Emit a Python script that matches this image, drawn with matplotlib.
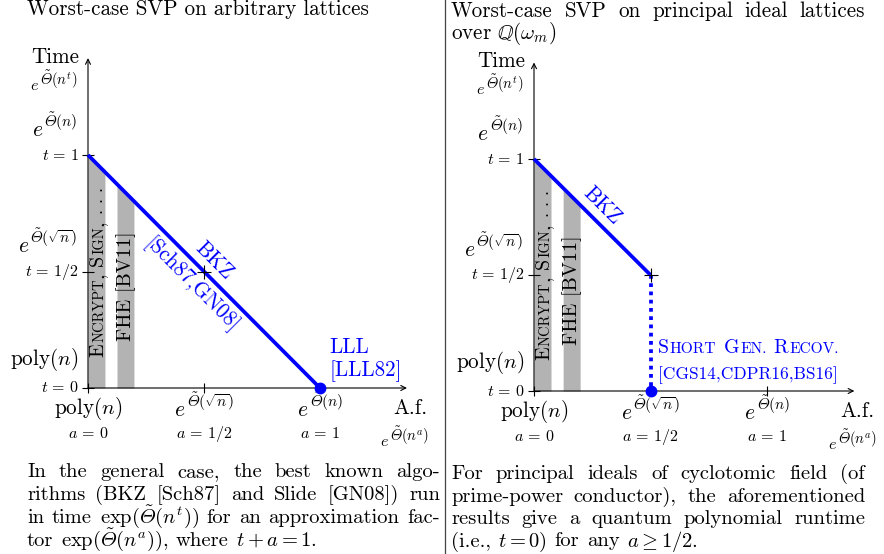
import numpy as np
import matplotlib.pyplot as plt
import matplotlib.transforms as mtransforms
from matplotlib.lines import Line2D

plt.rcParams['font.family'] = 'cmr10'
plt.rcParams['mathtext.fontset'] = 'cm'
plt.rcParams['axes.unicode_minus'] = False

W, H = 884, 554
BLUE = '#0000ff'
GREY = '#b3b3b3'
BIG = 15.2
CAP = 14.8
SMALL = 11.5
# slot 0xA3 of the bundled cmmi10 holds the italic capital Theta
TH = r'\tilde{£}'

# ---- data (a = approximation exponent, t = time exponent)
bar_spans = [(0.0, 0.073), (0.125, 0.198)]
t_ticks = [0, 0.5, 1]
t_tick_labels = [r'$t\,=\,0$', r'$t\,=\,1/2$', r'$t\,=\,1$']
time_levels = [0.584, 1.08]
time_sups = [r'(\sqrt{n})', r'(n)']
a_ticks = [0, 0.5, 1]
af_sups = [None, r'(\sqrt{n})', r'(n)']
a_tick_labels = [r'$a\,=\,0$', r'$a\,=\,1/2$', r'$a\,=\,1$']

left_bkz_a = [0, 1]
left_bkz_t = [1, 0]
right_bkz_a = [0, 0.5]
right_bkz_t = [1, 0.5]
right_sgr_a = [0.5, 0.5]
right_sgr_t = [0.5, 0]

left_caption = [
    "In the general case, the best known algo-",
    "rithms (BKZ [Sch87] and Slide [GN08]) run",
    r"in time $\exp(" + TH + r"(n^t))$ for an approximation fac-",
    r"tor $\exp(" + TH + r"(n^a))$, where $t+a=1$.",
]
right_caption = [
    "For principal ideals of cyclotomic field (of",
    "prime-power conductor), the aforementioned",
    "results give a quantum polynomial runtime",
    r"(i.e., $t=0$) for any $a\geq1/2$.",
]

fig = plt.figure(figsize=(W / 100, H / 100), dpi=100)
R = fig.canvas.get_renderer()


def ptext(x, y, s, **kw):
    return fig.text(x / W, 1 - y / H, s, **kw)


def text_width(s, size):
    tmp = fig.text(0, 0, s, fontsize=size)
    w = tmp.get_window_extent(R).width
    tmp.remove()
    return w


def justify(line, x0, x1, y, size, stretch=True):
    words = line.split(' ')
    ws = [text_width(w, size) for w in words]
    gap = size * 0.36 * 100 / 72
    if stretch:
        gap = max((x1 - x0 - sum(ws)) / (len(words) - 1), 3.0)
    x = x0
    for w, wd in zip(words, ws):
        ptext(x, y, w, fontsize=size, va='baseline', ha='left')
        x += wd + gap


def shifted(ax, dx, dy):
    return mtransforms.offset_copy(ax.transData, fig=fig, x=dx, y=dy, units='dots')


def smallcaps(ax, x, y, pieces, rotation=0, color='k'):
    off = 0.0
    for s, size in pieces:
        if s == ' ':
            off += size * 0.33 * 100 / 72
            continue
        w = text_width(s, size)
        dx, dy = (off, 0) if rotation == 0 else (0, off)
        ax.text(x, y, s, fontsize=size, color=color, rotation=rotation,
                rotation_mode='anchor', ha='left', va='baseline',
                transform=shifted(ax, dx, dy), clip_on=False)
        off += w + size * 0.06


def elabel(ax, x, y, sup, esize, ssize, raise_px, ha='right'):
    # e^{Theta~(...)} with a larger superscript than mathtext gives
    s = '$' + TH + sup + '$'
    we = text_width('$e$', esize)
    ws = text_width(s, ssize)
    total = we + ws + 1
    x0 = -total if ha == 'right' else -total / 2
    ax.text(x, y, '$e$', fontsize=esize, ha='left', va='baseline',
            transform=shifted(ax, x0, 0), clip_on=False)
    ax.text(x, y, s, fontsize=ssize, ha='left', va='baseline',
            transform=shifted(ax, x0 + we + 1, raise_px), clip_on=False)


def unit_axes(x0, x1, ybot, ytop):
    ax = fig.add_axes([x0 / W, 1 - ybot / H, (x1 - x0) / W, (ybot - ytop) / H])
    ax.set_xlim(0, 1)
    ax.set_ylim(0, 1)
    ax.axis('off')
    return ax


def frame(ax):
    for a0, a1 in bar_spans:
        aa = np.linspace(a0, a1, 20)
        ax.fill_between(aa, 0, 1 - aa, color=GREY, lw=0, clip_on=False)
    arrow = dict(arrowstyle='->', lw=0.8, color='k', shrinkA=0, shrinkB=0,
                 mutation_scale=9)
    ax.annotate('', xy=(1.375, 0), xytext=(0, 0), arrowprops=arrow,
                annotation_clip=False)
    ax.annotate('', xy=(0, 1.416), xytext=(0, 0), arrowprops=arrow,
                annotation_clip=False)
    ax.hlines(t_ticks, -0.026, 0.026, color='k', lw=0.8, clip_on=False)
    ax.vlines(a_ticks, -0.022, 0.022, color='k', lw=0.8, clip_on=False)

    # time axis labels
    ax.text(-0.039, 1.395, 'Time', fontsize=BIG, ha='right', va='baseline')
    for v, s in zip(t_ticks, t_tick_labels):
        ax.text(-0.04, v, s, fontsize=SMALL, ha='right', va='center')
    ax.text(-0.043, 0.099, r'poly$(n)$', fontsize=BIG, ha='right', va='baseline')
    for v, sup in zip(time_levels, time_sups):
        elabel(ax, -0.047, v, sup, 15.5, 11, 9)
    elabel(ax, -0.047, 1.28, r'(n^t)', 11.5, 10.5, 5)

    # approximation factor axis labels
    for v, sup in zip(a_ticks, af_sups):
        if sup is None:
            ax.text(v, -0.112, r'poly$(n)$', fontsize=BIG, ha='center', va='baseline')
        else:
            elabel(ax, v, -0.12, sup, 15.5, 11, 9, ha='center')
    for v, s in zip(a_ticks, a_tick_labels):
        ax.text(v, -0.215, s, fontsize=SMALL, ha='center', va='baseline')
    ax.text(1.39, -0.112, 'A.f.', fontsize=BIG, ha='center', va='baseline')
    elabel(ax, 1.366, -0.25, r'(n^a)', 11.5, 10.5, 5, ha='center')

    smallcaps(ax, 0.065, 0.133,
              [('E', 14.5), ('NCRYPT', 14.5 * 0.72), (',', 14.5), (' ', 12),
               ('S', 14.5), ('IGN', 14.5 * 0.72), (',', 14.5), (' ', 12),
               ('. . .', 13)], rotation=90)
    ax.text(0.187, 0.2, 'FHE [BV11]', fontsize=14.5, rotation=90,
            rotation_mode='anchor', ha='left', va='baseline')


axL = unit_axes(88, 320, 388, 155)
axR = unit_axes(534, 767, 391, 159)
frame(axL)
frame(axR)

# left panel: BKZ / LLL
axL.plot(left_bkz_a, left_bkz_t, color=BLUE, lw=2.7, solid_capstyle='butt',
         clip_on=False, zorder=3)
axL.plot(left_bkz_a[-1], left_bkz_t[-1], 'o', color=BLUE, ms=7.5,
         clip_on=False, zorder=4)
axL.plot(0.5, 0.5, '+', color='k', ms=10, mew=0.8, clip_on=False, zorder=5)
axL.text(0.543, 0.545, 'BKZ', color=BLUE, fontsize=BIG, rotation=-45,
         rotation_mode='anchor', ha='center', va='center')
axL.text(0.444, 0.442, '[Sch87,GN08]', color=BLUE, fontsize=BIG, rotation=-45,
         rotation_mode='anchor', ha='center', va='center')
axL.text(1.039, 0.176, 'LLL', color=BLUE, fontsize=BIG, ha='left', va='center')
axL.text(1.039, 0.073, '[LLL82]', color=BLUE, fontsize=BIG, ha='left', va='center')

# right panel: BKZ then short generator recovery
axR.plot(right_bkz_a, right_bkz_t, color=BLUE, lw=2.7, solid_capstyle='butt',
         clip_on=False, zorder=3)
axR.plot(right_sgr_a, right_sgr_t, color=BLUE, lw=2.7, dashes=(1.0, 1.2),
         clip_on=False, zorder=3)
axR.plot(right_sgr_a[-1], right_sgr_t[-1], 'o', color=BLUE, ms=7.5,
         clip_on=False, zorder=4)
axR.plot(right_bkz_a[-1], right_bkz_t[-1], '+', color='k', ms=10, mew=0.8,
         clip_on=False, zorder=5)
axR.text(0.292, 0.797, 'BKZ', color=BLUE, fontsize=BIG, rotation=-45,
         rotation_mode='anchor', ha='center', va='center')
smallcaps(axR, 0.532, 0.165,
          [('S', 14.3), ('HORT', 14.3 * 0.78), (' ', 14.3), ('G', 14.3),
           ('EN.', 14.3 * 0.78), (' ', 14.3), ('R', 14.3), ('ECOV.', 14.3 * 0.78)],
          color=BLUE)
axR.text(0.532, 0.069, '[CGS14,CDPR16,BS16]', color=BLUE, fontsize=12.5,
         ha='left', va='center')

# titles, captions, divider
ptext(27, 15, 'Worst-case SVP on arbitrary lattices', fontsize=BIG, va='baseline')
justify('Worst-case SVP on principal ideal lattices', 451, 865, 17, BIG)
ptext(451, 39, r'over $\mathbb{Q}(\omega_m)$', fontsize=BIG, va='baseline')

for i, line in enumerate(left_caption):
    justify(line, 27, 440, 477 + 23 * i, CAP, stretch=i < 3)
for i, line in enumerate(right_caption):
    justify(line, 451, 865, 479 + 22.5 * i, CAP, stretch=i < 3)

fig.add_artist(Line2D([445 / W, 445 / W], [0, 1], color='#444444', lw=0.9))

fig.savefig('out.png', dpi=100)
